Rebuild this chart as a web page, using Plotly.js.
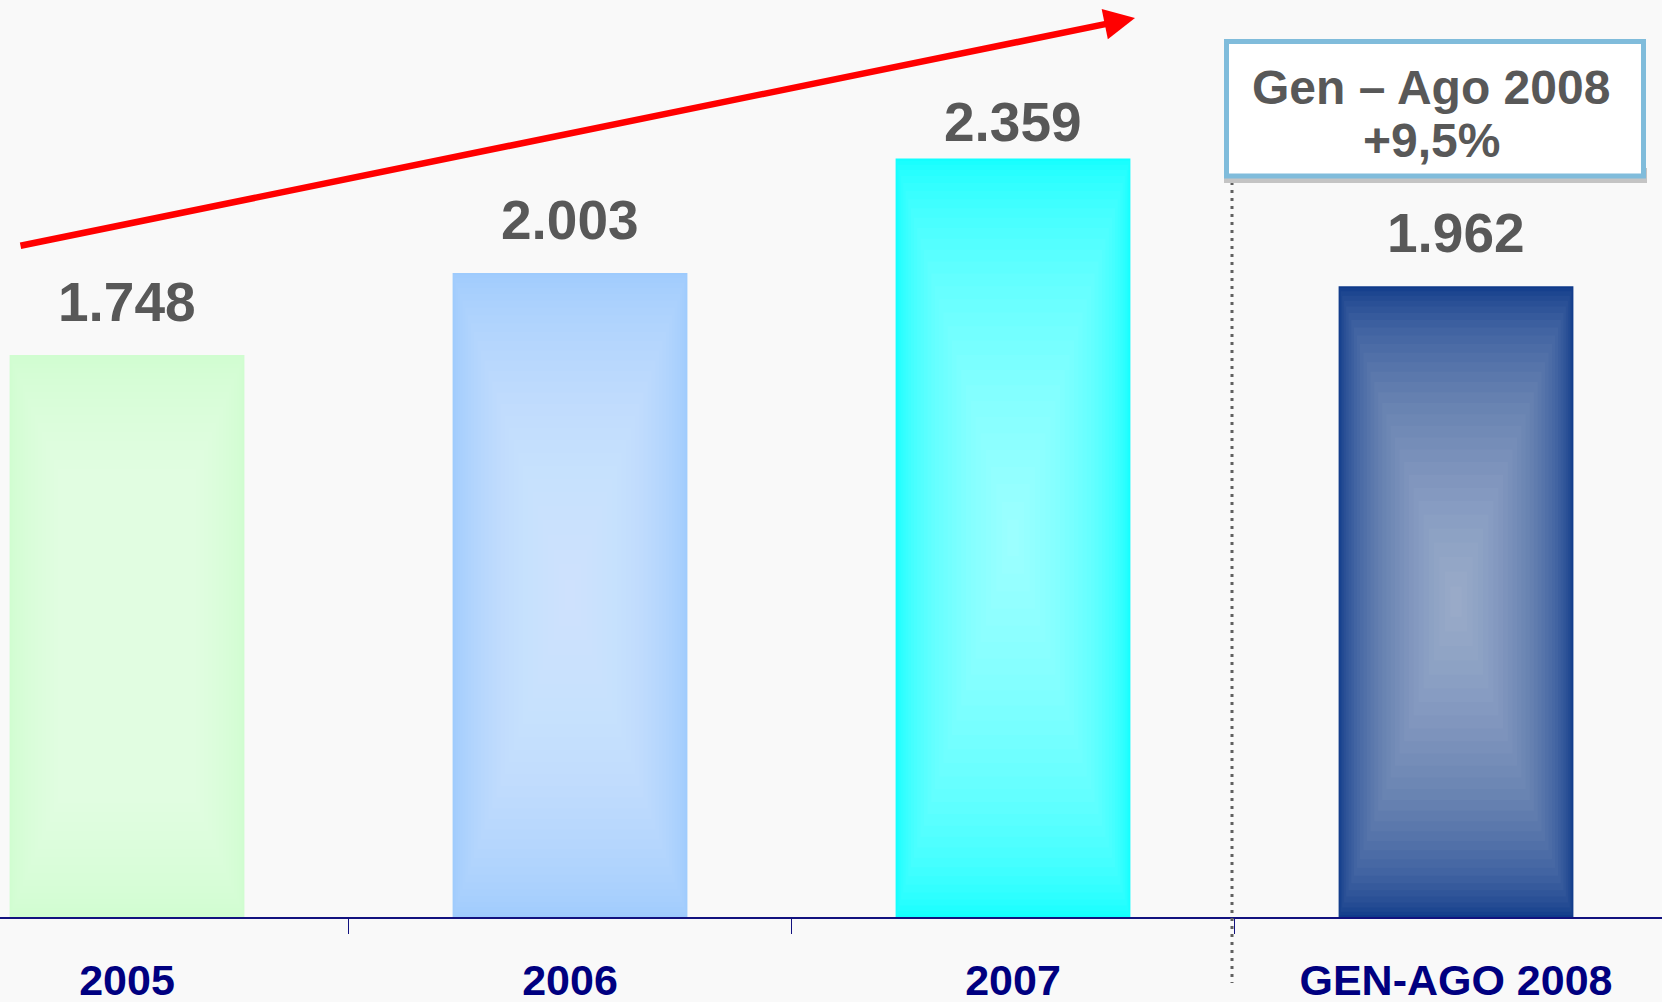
<!DOCTYPE html>
<html>
<head>
<meta charset="utf-8">
<script src="https://cdn.plot.ly/plotly-3.0.1.min.js"></script>
<style>html,body{margin:0;padding:0;background:#f9f9f9;}#chart{width:1662px;height:1002px;}</style>
</head>
<body>
<div id="chart"></div>
<script>
// ---- data ----
const categories = ["2005", "2006", "2007", "GEN-AGO 2008"];
const values = [1748, 2003, 2359, 1962];
const barColors = ["#d0fdd0", "#9ecbfd", "#12ffff", "#0f3a8a"];
const boxLine1 = "Gen \u2013 Ago 2008";
const boxLine2 = "+9,5%";

// ---- styling helpers ----
const FONT = "Liberation Sans, Arial, Helvetica, sans-serif";
const W = 1662, H = 1002, MB = 85, PH = H - MB;
const xRange = [-0.2867, 3.465];
const yRange = [0, 2852];
const barWidth = 0.53;
const labelShift = [20, 20, 4, 20];
const px = v => v / W;             // pixel x -> paper
const py = v => (PH - v) / PH;     // pixel y (from top) -> paper

function fmt(v) {
  const s = Math.round(v).toString();
  return s.replace(/\B(?=(\d{3})+(?!\d))/g, ".");
}

const traces = [];
traces.push({
  type: "bar",
  x: categories,
  y: values,
  width: barWidth,
  marker: { color: barColors, line: { width: 0 } },
  hoverinfo: "skip",
  showlegend: false
});

// rectangular ("path") gradient: nested translucent rectangles
const N = 30;
const alpha = 1 - Math.pow(0.40, 1 / N);
for (let k = 1; k <= N; k++) {
  const t = k / (N + 1);
  const f = 1 - Math.pow(t, 1.5);
  const xs = [], ys = [];
  values.forEach((v, i) => {
    const hw = barWidth / 2 * f;
    const cy = v / 2, hh = v / 2 * f;
    xs.push(i - hw, i + hw, i + hw, i - hw, i - hw, null);
    ys.push(cy - hh, cy - hh, cy + hh, cy + hh, cy - hh, null);
  });
  traces.push({
    type: "scatter", mode: "lines",
    x: xs, y: ys, xaxis: "x2", yaxis: "y",
    fill: "toself",
    fillcolor: "rgba(255,255,255," + alpha.toFixed(4) + ")",
    line: { width: 0 },
    hoverinfo: "skip", showlegend: false
  });
}

const annotations = values.map((v, i) => ({
  x: i, y: v, xref: "x2", yref: "y",
  text: fmt(v), showarrow: false,
  yanchor: "bottom", xanchor: "center", yshift: labelShift[i],
  font: { family: FONT, size: 55, color: "#585858", weight: "bold" }
}));

// red trend arrow
annotations.push({
  xref: "paper", yref: "paper",
  x: px(1135), y: py(18),
  ax: 19 - 1135, ay: 246 - 18,
  axref: "pixel", ayref: "pixel",
  text: "", showarrow: true,
  arrowhead: 2, arrowsize: 0.95, arrowwidth: 6.5, arrowcolor: "#ff0000"
});

// box texts
annotations.push({
  xref: "paper", yref: "paper", x: px(1431), y: py(88),
  text: boxLine1, showarrow: false, xanchor: "center", yanchor: "middle",
  font: { family: FONT, size: 48, color: "#585858", weight: "bold" }
});
annotations.push({
  xref: "paper", yref: "paper", x: px(1431), y: py(140),
  text: boxLine2, showarrow: false, xanchor: "center", yanchor: "middle",
  font: { family: FONT, size: 48, color: "#585858", weight: "bold" }
});

const shapes = [
  // dotted separator
  { type: "line", xref: "paper", yref: "paper",
    x0: px(1232), x1: px(1232), y0: py(182), y1: py(983),
    line: { color: "#606060", width: 3, dash: "3px,5px" }, layer: "above" },
  // box shadow
  { type: "rect", xref: "paper", yref: "paper",
    x0: px(1224), x1: px(1647), y0: py(183), y1: py(168),
    fillcolor: "#c4c4c4", line: { width: 0 }, layer: "above" },
  // box
  { type: "rect", xref: "paper", yref: "paper",
    x0: px(1226.5), x1: px(1643.5), y0: py(41.5), y1: py(176),
    fillcolor: "#ffffff", line: { color: "#80bcdb", width: 5 }, layer: "above" }
];

const layout = {
  width: W, height: H,
  margin: { l: 0, r: 0, t: 0, b: MB, pad: 0 },
  paper_bgcolor: "#f9f9f9",
  plot_bgcolor: "#f9f9f9",
  showlegend: false,
  xaxis: {
    type: "category",
    categoryorder: "array", categoryarray: categories,
    range: xRange,
    showgrid: false, zeroline: false,
    showline: true, linecolor: "#12127f", linewidth: 2,
    ticks: "outside", tickson: "boundaries", ticklen: 15,
    tickcolor: "#12127f", tickwidth: 1.5,
    ticklabelstandoff: 24,
    tickfont: { family: FONT, size: 43, color: "#000080", weight: "bold" },
    fixedrange: true
  },
  xaxis2: {
    overlaying: "x", range: xRange, visible: false, fixedrange: true
  },
  yaxis: {
    range: yRange, visible: false, showgrid: false, zeroline: false, fixedrange: true
  },
  annotations: annotations,
  shapes: shapes
};

Plotly.newPlot("chart", traces, layout, { displayModeBar: false, staticPlot: true });
</script>
</body>
</html>
